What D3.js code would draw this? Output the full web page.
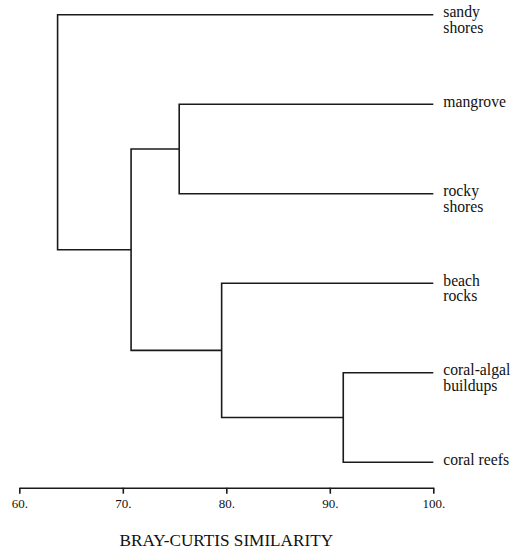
<!DOCTYPE html>
<html>
<head>
<meta charset="utf-8">
<script src="https://cdn.jsdelivr.net/npm/d3@7"></script>
<style>
    body { margin: 0; background: #fff; }
    svg { display: block; font-family: "Liberation Serif", "Times New Roman", serif; }
    .link { fill: none; stroke: #1a1a1a; stroke-width: 1.6; }
    .leaf-label { font-size: 15.7px; fill: #111; }
    .axis path, .axis line { stroke: #1a1a1a; stroke-width: 1.6; }
    .axis text { font-family: "Liberation Serif", "Times New Roman", serif; font-size: 13px; fill: #111; }
    .axis-title { font-size: 17.2px; fill: #111; }
</style>
</head>
<body>
<svg id="dendro" width="511" height="553"></svg>
<script>
'use strict';

// leaf labels, top to bottom (\n = line break)
const leafNames = ['sandy\nshores', 'mangrove', 'rocky\nshores', 'beach\nrocks', 'coral-algal\nbuildups', 'coral reefs'];

// linkage table: node n+i joins mergeA[i] and mergeB[i] at mergeSim[i]
const mergeA = [4, 1, 3, 7, 0];
const mergeB = [5, 2, 6, 8, 9];
const mergeSim = [91.3, 75.45, 79.55, 70.8, 63.7];

const tickValues = [60, 70, 80, 90, 100];
const axisTitle = 'BRAY-CURTIS SIMILARITY';

const svg = d3.select('#dendro');

const x = d3.scaleLinear().domain([60, 100]).range([19.3, 433.3]);
const y = d3.scalePoint().domain(d3.range(leafNames.length)).range([14.7, 462.3]);

// position of every node: leaves first, then merged clusters
let nodes = leafNames.map((name, i) => ({ sim: 100, pos: y(i) }));
mergeA.forEach((a, i) => {
    let b = mergeB[i];
    nodes.push({ sim: mergeSim[i], pos: (nodes[a].pos + nodes[b].pos) / 2, a, b });
});

const links = svg.append('g');

nodes.filter(d => d.a !== undefined).forEach(d => {
    let ca = nodes[d.a];
    let cb = nodes[d.b];
    let path = d3.path();
    path.moveTo(x(ca.sim), ca.pos);
    path.lineTo(x(d.sim), ca.pos);
    path.lineTo(x(d.sim), cb.pos);
    path.lineTo(x(cb.sim), cb.pos);
    links.append('path')
        .attr('class', 'link')
        .attr('d', path.toString());
});

// leaf labels
svg.append('g').selectAll('text')
    .data(leafNames)
    .enter().append('text')
    .attr('class', 'leaf-label')
    .attr('x', x(100) + 10)
    .attr('y', (d, i) => y(i) + 2.5)
    .each(function (d) {
        let t = d3.select(this);
        d.split('\n').forEach((line, k) => {
            t.append('tspan')
                .attr('x', x(100) + 10)
                .attr('dy', k === 0 ? 0 : 15.5)
                .text(line);
        });
    });

// axis
const xAxis = d3.axisBottom(x)
    .tickValues(tickValues)
    .tickSizeInner(6)
    .tickSizeOuter(0)
    .tickPadding(5)
    .tickFormat(d => d + '.');

svg.append('g')
    .attr('class', 'axis')
    .attr('transform', 'translate(0,487.7)')
    .call(xAxis)
    .call(g => g.attr('font-family', null).attr('font-size', null));

svg.append('text')
    .attr('class', 'axis-title')
    .attr('x', x(80))
    .attr('y', 546)
    .attr('text-anchor', 'middle')
    .text(axisTitle);
</script>
</body>
</html>
